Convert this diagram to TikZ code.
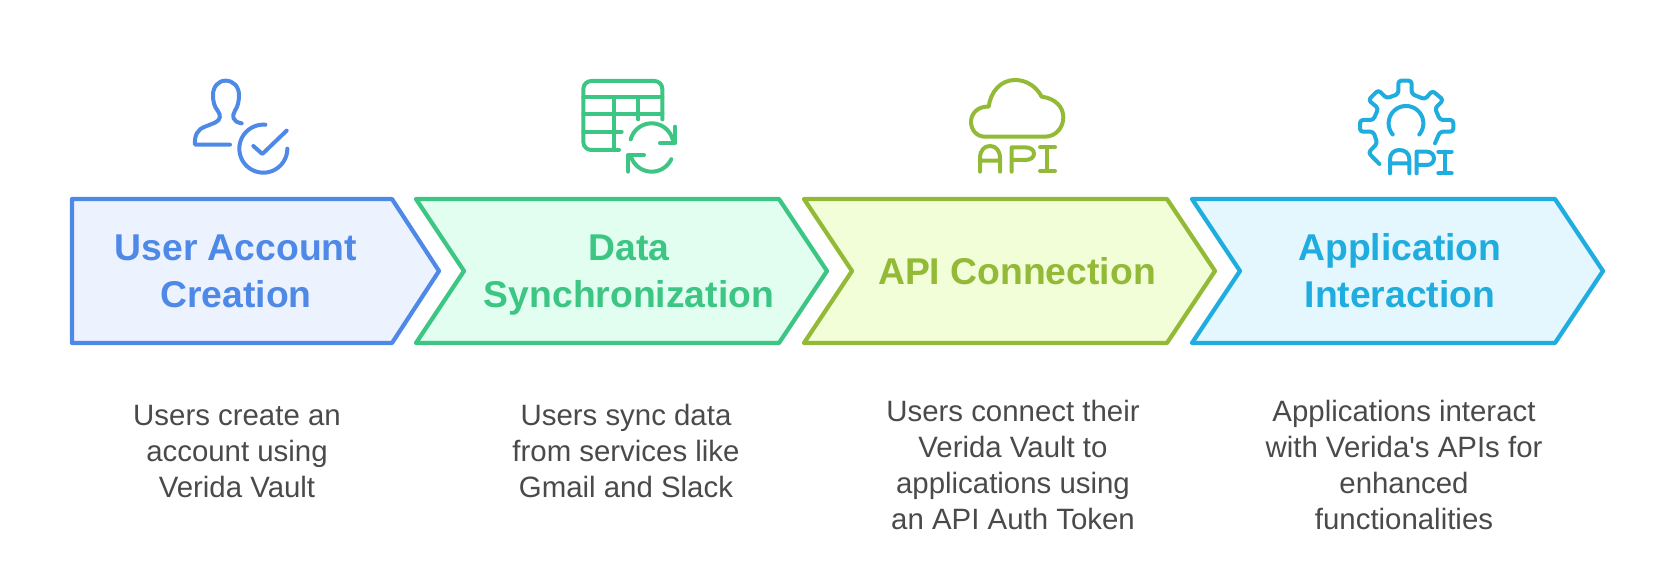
\documentclass[tikz,border=0pt]{standalone}
\usepackage{fontspec}
\setmainfont{Liberation Sans}
\newfontfamily\plainfont{Liberation Sans}
\definecolor{cb}{HTML}{4E89E8}\definecolor{fb}{HTML}{ECF3FE}
\definecolor{cg}{HTML}{3CC583}\definecolor{fg}{HTML}{E1FEF0}
\definecolor{co}{HTML}{93BA36}\definecolor{fo}{HTML}{F2FED8}
\definecolor{cc}{HTML}{1FACDE}\definecolor{fc}{HTML}{E4F7FF}
\definecolor{txt}{HTML}{4A4A4A}
\tikzset{
 chev/.style={line width=4.2pt,line join=round},
 head/.style={font=\fontsize{37.3}{47}\selectfont\bfseries,align=center,inner sep=0pt},
 desc/.style={font=\fontsize{29.4}{36}\selectfont,text=txt,align=center,inner sep=0pt},
 icon/.style={line width=4pt,line cap=round,line join=round},
}
\begin{document}
\begin{tikzpicture}[x=1pt,y=-1pt]
\useasboundingbox[fill=white] (0,0) rectangle (1666,578);
% chevrons
\draw[chev,draw=cb,fill=fb] (72,199) -- (392,199) -- (439,271) -- (392,343) -- (72,343) -- cycle;
\draw[chev,draw=cg,fill=fg] (416,199) -- (779,199) -- (827,271) -- (779,343) -- (416,343) -- (464,271) -- cycle;
\draw[chev,draw=co,fill=fo] (804,199) -- (1167,199) -- (1215,271) -- (1167,343) -- (804,343) -- (852,271) -- cycle;
\draw[chev,draw=cc,fill=fc] (1192,199) -- (1555,199) -- (1603,271) -- (1555,343) -- (1192,343) -- (1240,271) -- cycle;
% headings
\node[head,text=cb] (h1) at (236,271) {User Account\\Creation};
\node[head,text=cg] (h2) at (629,275) {Data\\Synchronization};
\node[head,text=co] (h3) at (1017,271) {API Connection};
\node[head,text=cc] (h4) at (1400,271) {Application\\Interaction};
% descriptions
\node[desc] (d1) at (237,452) {Users create an\\account using\\Verida Vault};
\node[desc] (d2) at (626,451) {Users sync data\\from services like\\Gmail and Slack};
\node[desc] (d3) at (1013,464.5) {Users connect their\\Verida Vault to\\applications using\\an API Auth Token};
\node[desc] (d4) at (1404,464.5) {Applications interact\\with Verida{\plainfont'}s APIs for\\enhanced\\functionalities};
% icon 1
\begin{scope}[shift={(185,70)},x=0.3333pt,y=-0.3333pt,icon,draw=cb]
\draw (135,224) -- (30,224) .. controls (28,195) and (38,178) .. (60,170) -- (90,158) .. controls (108,150) and (108,135) .. (98,122) .. controls (88,110) and (84,95) .. (84,75) .. controls (84,50) and (100,32) .. (122,32) .. controls (145,32) and (162,50) .. (162,75) .. controls (162,95) and (158,110) .. (150,122) .. controls (140,138) and (142,155) .. (170,160);
\draw plot[domain=85:360,samples=60] ({235+72*cos(\x)},{236-72*sin(\x)});
\draw (205,228) -- (232,252) -- (305,182);
\end{scope}
% icon 2
\begin{scope}[shift={(570,70)},x=0.3333pt,y=-0.3333pt,icon,draw=cg]
\draw[rounded corners=8pt] (147,240) -- (40,240) -- (40,33) -- (277,33) -- (277,148);
\draw (40,82) -- (277,82) (40,133) -- (277,133) (40,185) -- (155,185);
\draw (133,82) -- (133,240) (205,82) -- (205,148);
\draw plot[domain=15:165,samples=40] ({245+65*cos(\x)},{225-65*sin(\x)});
\draw plot[domain=195:335,samples=40] ({245+65*cos(\x)},{240-65*sin(\x)});
\draw (315,170) -- (315,220) -- (270,220);
\draw (175,305) -- (175,255) -- (222,255);
\end{scope}
% icon 3
\begin{scope}[shift={(960,70)},x=0.3333pt,y=-0.3333pt,icon,draw=co]
\draw (75,200) -- (255,200) .. controls (288,200) and (310,172) .. (310,142) .. controls (310,110) and (285,85) .. (245,80) .. controls (228,48) and (198,30) .. (165,30) .. controls (122,30) and (92,65) .. (86,110) .. controls (55,108) and (33,130) .. (33,155) .. controls (33,180) and (50,200) .. (75,200);
\draw (60,305) -- (60,265) .. controls (60,242) and (72,228) .. (90,228) .. controls (108,228) and (120,242) .. (120,265) -- (120,305) (60,272) -- (120,272);
\draw (155,305) -- (155,232) -- (195,232) .. controls (212,232) and (222,240) .. (222,251) .. controls (222,262) and (212,270) .. (195,270) -- (155,270);
\draw (240,232) -- (285,232) (262,232) -- (262,303) (240,303) -- (285,303);
\end{scope}
% icon 4
\begin{scope}[shift={(1345,70)},x=0.3333pt,y=-0.3333pt,icon,draw=cc]
\draw[rounded corners=3pt] (103,282) -- (70,248) -- (97,220) -- (85,185) -- (45,185) -- (45,150) -- (85,150) -- (100,115) -- (70,90) -- (100,60) -- (125,85) -- (160,72) -- (160,32) -- (200,32) -- (200,72) -- (240,88) -- (262,62) -- (295,90) -- (270,115) -- (285,150) -- (325,150) -- (325,185) -- (285,185) -- (270,220);
\draw plot[domain=-40:220,samples=60] ({183+52*cos(\x)},{160-52*sin(\x)});
\draw (135,310) -- (135,268) .. controls (135,250) and (148,240) .. (163,240) .. controls (180,240) and (193,250) .. (193,268) -- (193,310) (135,280) -- (193,280);
\draw (215,310) -- (215,245) -- (245,245) .. controls (258,245) and (267,254) .. (267,265) .. controls (267,277) and (258,285) .. (245,285) -- (215,285);
\draw (280,245) -- (320,245) (300,245) -- (300,310) (280,310) -- (320,310);
\end{scope}
\end{tikzpicture}
\end{document}
